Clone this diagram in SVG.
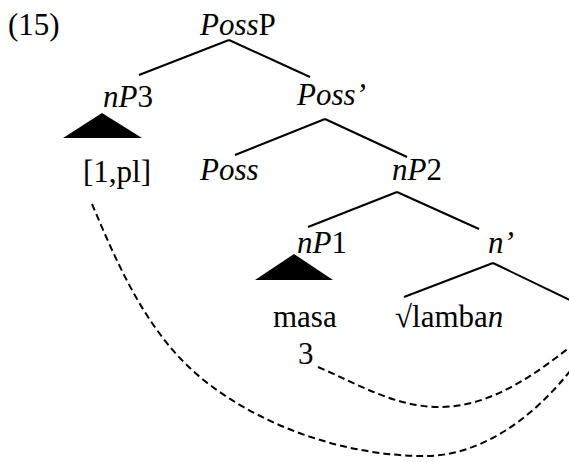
<svg xmlns="http://www.w3.org/2000/svg" width="569" height="462" viewBox="0 0 569 462">
<style>
text{font-family:"Liberation Serif","Times New Roman",serif;font-size:31px;fill:#000}
.i{font-style:italic}
.e{stroke:#000;stroke-width:2;fill:none}
.d{stroke:#000;stroke-width:2;fill:none;stroke-dasharray:7,4}
.t{fill:#000;stroke:none}
</style>
<rect width="569" height="462" fill="#fff"/>
<text x="8" y="35">(15)</text>
<g id="connectors">
<line class="e" x1="229" y1="40" x2="139" y2="75"/>
<line class="e" x1="229" y1="40" x2="310" y2="77"/>
<line class="e" x1="325" y1="119" x2="235" y2="155"/>
<line class="e" x1="325" y1="119" x2="407" y2="157"/>
<line class="e" x1="397" y1="192" x2="308" y2="227"/>
<line class="e" x1="397" y1="192" x2="479" y2="229"/>
<line class="e" x1="493" y1="263" x2="404" y2="297"/>
<line class="e" x1="493" y1="263" x2="580" y2="305"/>
<path class="d" d="M318,367 C360,385 395,407 440,407 C490,407 535,375 575,343"/>
<path class="d" d="M92,204 C120,270 150,340 210,385 C270,430 350,456 425,456 C475,456 530,425 577,362"/>
</g>
<g id="PossP"><text x="200" y="35"><tspan class="i">Poss</tspan>P</text></g>
<g id="nP3"><text x="103" y="107"><tspan class="i">nP</tspan>3</text>
<polygon class="t" points="102,113 63,138 142,138"/></g>
<g id="Possbar"><text x="297" y="105" class="i">Poss’</text></g>
<g id="pl"><text x="83" y="182">[1,pl]</text></g>
<g id="Poss"><text x="200" y="180" class="i">Poss</text></g>
<g id="nP2"><text x="392" y="180"><tspan class="i">nP</tspan>2</text></g>
<g id="nP1"><text x="297" y="253"><tspan class="i">nP</tspan>1</text>
<polygon class="t" points="294,254 255,280 333,280"/></g>
<g id="nbar"><text x="488" y="253" class="i">n’</text></g>
<g id="masa"><text x="273" y="327">masa</text></g>
<g id="lamban"><text x="395" y="327">√lamba<tspan class="i">n</tspan></text></g>
<g id="three"><text x="298" y="364">3</text></g>
</svg>
